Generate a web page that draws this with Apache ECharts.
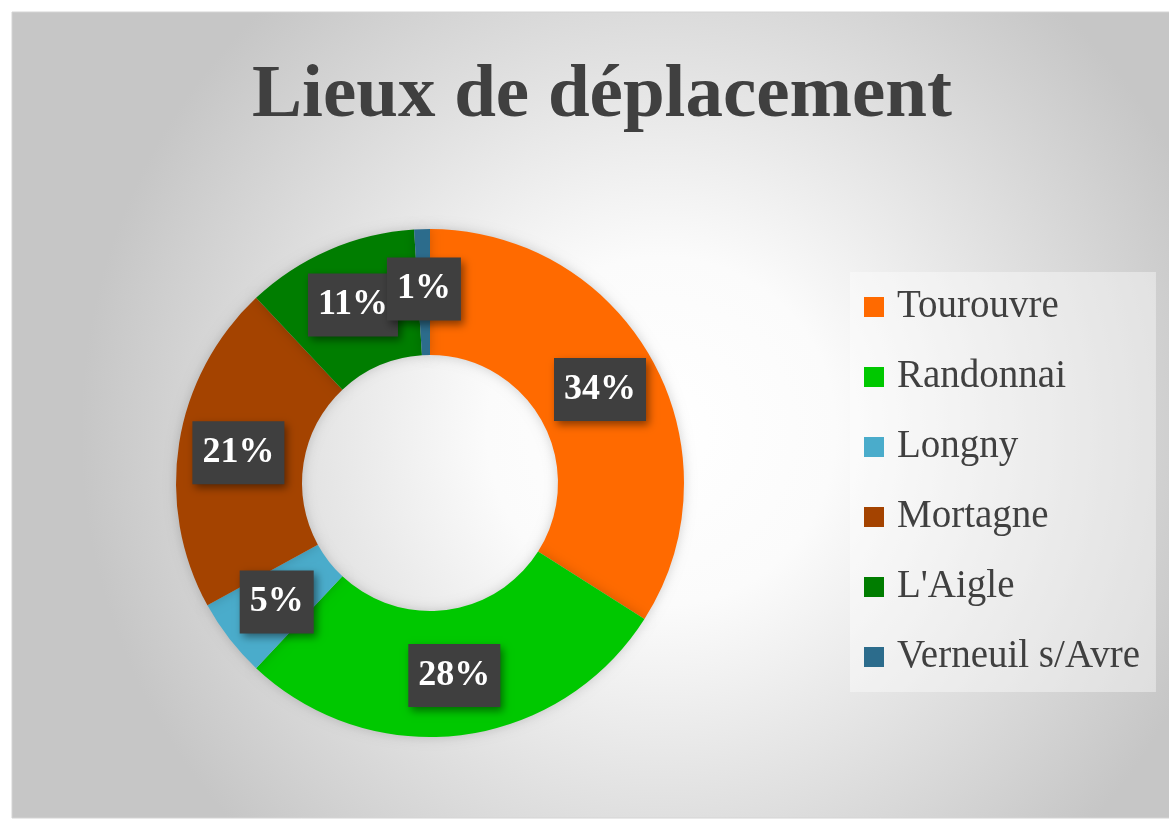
<!DOCTYPE html>
<html>
<head>
<meta charset="utf-8">
<script src="https://cdn.jsdelivr.net/npm/echarts@6/dist/echarts.min.js"></script>
<style>
html,body{margin:0;padding:0;background:#ffffff;}
#chart{width:1169px;height:824px;}
</style>
</head>
<body>
<div id="chart"></div>
<script>
const titleText = 'Lieux de déplacement';
const categories = ['Tourouvre', 'Randonnai', 'Longny', 'Mortagne', "L'Aigle", 'Verneuil s/Avre'];
const values = [34, 28, 5, 21, 11, 1];
const colors = ['#ff6a00', '#00c800', '#4aaccb', '#a44300', '#007d00', '#2c6c8c'];

const serif = "'Liberation Serif', 'DejaVu Serif', serif";
const chart = echarts.init(document.getElementById('chart'), null, {renderer: 'canvas'});

const option = {
  animation: false,
  color: colors,
  graphic: [{
    type: 'rect',
    z: -10,
    silent: true,
    shape: {x: 12, y: 12, width: 1160, height: 806},
    style: {
      fill: {
        type: 'radial', x: 0.56, y: 0.52, r: 0.72,
        colorStops: [
          {offset: 0, color: '#ffffff'},
          {offset: 0.3, color: '#fbfbfb'},
          {offset: 1, color: '#c6c6c6'}
        ]
      },
      stroke: '#d4d4d4',
      lineWidth: 1
    }
  }],
  title: {
    text: titleText,
    left: 597,
    textAlign: 'center',
    top: 54,
    textStyle: {
      fontFamily: serif,
      fontWeight: 'bold',
      fontSize: 75,
      color: '#404040'
    }
  },
  legend: {
    orient: 'vertical',
    left: 850,
    top: 272,
    padding: [15, 16, 15, 14],
    backgroundColor: 'rgba(255,255,255,0.4)',
    itemWidth: 20,
    itemHeight: 20,
    itemGap: 30,
    icon: 'rect',
    data: categories,
    textStyle: {
      fontFamily: serif,
      fontSize: 39,
      lineHeight: 40,
      color: '#404040',
      padding: [0, 0, 0, 8]
    }
  },
  series: [{
    type: 'pie',
    center: [430, 483],
    radius: [128, 254],
    startAngle: 90,
    clockwise: true,
    avoidLabelOverlap: false,
    labelLayout: {hideOverlap: false},
    minShowLabelAngle: 0,
    itemStyle: {
      borderWidth: 0,
      shadowBlur: 12,
      shadowColor: 'rgba(0,0,0,0.18)'
    },
    label: {
      show: true,
      position: 'inside',
      formatter: p => p.value + '%',
      fontFamily: serif,
      fontWeight: 'bold',
      fontSize: 36,
      lineHeight: 40,
      color: '#ffffff',
      backgroundColor: '#3f3f3f',
      padding: [12, 10, 11, 10],
      shadowBlur: 8,
      shadowOffsetX: 3,
      shadowOffsetY: 4,
      shadowColor: 'rgba(0,0,0,0.45)'
    },
    labelLine: {show: false},
    emphasis: {disabled: true},
    data: categories.map((c, i) => ({name: c, value: values[i]}))
  }]
};
chart.setOption(option);
</script>
</body>
</html>
